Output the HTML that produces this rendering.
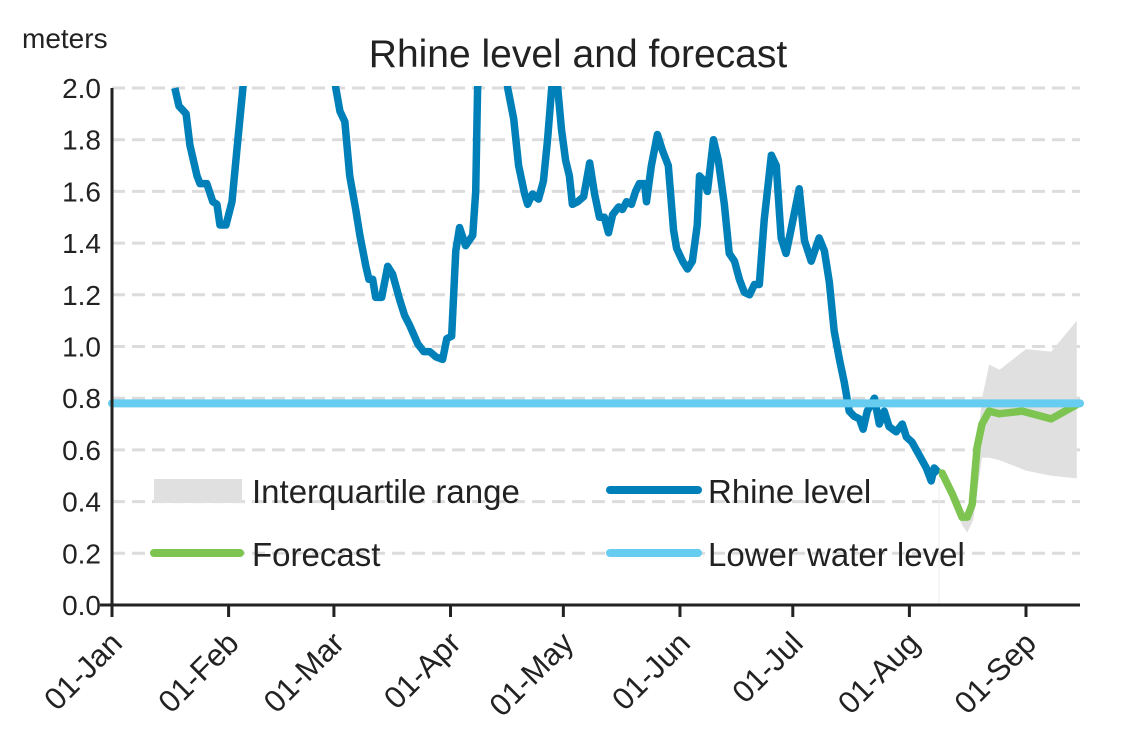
<!DOCTYPE html>
<html><head><meta charset="utf-8"><style>
body{margin:0;background:#fff;}
svg{display:block;font-family:"Liberation Sans",sans-serif;}
</style></head><body>
<svg id="chart" width="1146" height="739" viewBox="0 0 1146 739"></svg>
<script>
const rhineDays=[16.7,17.8,19.7,20.7,22.6,23.4,25.2,26.8,27.9,28.7,30.3,31.9,33.2,34.8,36.7,45,57,59.5,60.6,61.9,63.2,64.8,65.9,67.5,68.3,69.3,70.1,71.7,73.3,74.6,76.5,77.8,79.2,81.3,82.9,84.5,86.1,87.9,89,90.3,91.4,92.4,94,95.9,96.7,97.2,99,104,105.2,106.8,108.1,109.7,110.5,111.8,113.4,114.7,115.8,116.9,117.7,118.5,119.5,120.6,121.6,122.4,123.8,125.4,127,128.3,129.6,130.9,132,133.1,134.7,135.7,136.8,138.1,139.2,140.2,141.6,142.1,143.4,145,146.3,147.9,149.3,150.1,151.7,153,154.3,155.6,156.2,157.5,158.3,159.9,161.2,162.8,164.1,165.5,166.8,168.1,169.5,170.8,172.1,173.4,175.3,176.6,177.9,179.2,180.5,182.7,184.1,185.9,188,189.4,190.7,192,193.4,194.7,196,197.3,198.7,199.7,200.8,202.7,204,205.3,206.6,208.5,210.1,211.2,212.7,214.6,216.5,217.8,218.6,219.9];
const rhineValues=[2.0,1.93,1.90,1.78,1.66,1.63,1.63,1.56,1.55,1.47,1.47,1.56,1.76,2.0,2.3,3.0,2.3,2.0,1.91,1.87,1.66,1.53,1.43,1.31,1.26,1.26,1.19,1.19,1.31,1.28,1.18,1.12,1.08,1.01,0.98,0.98,0.96,0.95,1.03,1.04,1.37,1.46,1.39,1.43,1.60,2.0,2.4,2.3,2.0,1.88,1.70,1.59,1.55,1.59,1.57,1.64,1.80,2.0,2.1,2.0,1.84,1.72,1.66,1.55,1.56,1.58,1.71,1.59,1.50,1.50,1.44,1.51,1.54,1.53,1.56,1.55,1.60,1.63,1.63,1.56,1.70,1.82,1.76,1.70,1.45,1.38,1.33,1.30,1.33,1.47,1.66,1.64,1.60,1.80,1.72,1.55,1.36,1.33,1.26,1.21,1.20,1.24,1.24,1.49,1.74,1.70,1.42,1.36,1.45,1.61,1.41,1.33,1.42,1.37,1.25,1.06,0.95,0.86,0.75,0.73,0.72,0.68,0.75,0.80,0.70,0.75,0.69,0.67,0.70,0.65,0.63,0.58,0.53,0.48,0.53,0.51];
const forecastDays=[219.9,220.7,223.4,226,227.4,228.7,230,231.3,233.2,235.9,242,249.7,257.1];
const forecastValues=[0.51,0.51,0.43,0.34,0.34,0.39,0.61,0.70,0.75,0.74,0.75,0.72,0.78];
const iqrDays=[220,226,227.4,229,231.3,233.2,236,243,249.7,256.5];
const iqrUpper=[0.51,0.36,0.36,0.45,0.80,0.93,0.91,0.99,0.98,1.10];
const iqrLower=[0.51,0.31,0.28,0.33,0.57,0.57,0.56,0.52,0.50,0.49];
const lowerWaterLevel=0.78;
const yTicks=[0,0.2,0.4,0.6,0.8,1.0,1.2,1.4,1.6,1.8,2.0];
const monthDays=[0,31,59,90,120,151,181,212,243];
const monthLabels=["01-Jan","01-Feb","01-Mar","01-Apr","01-May","01-Jun","01-Jul","01-Aug","01-Sep"];
const X0=112,X1=1080,Y0=605,Y1=88;
const xs=d=>X0+d*(1026-X0)/243;
const ys=v=>Y0-(v/2)*(Y0-Y1);
const NS="http://www.w3.org/2000/svg";
const svg=document.getElementById('chart');
function mk(tag,at,parent){const e=document.createElementNS(NS,tag);for(const k in at)e.setAttribute(k,at[k]);(parent||svg).appendChild(e);return e;}
const defs=mk('defs',{});const cp=mk('clipPath',{id:'plotclip'},defs);mk('rect',{x:X0,y:Y1-2,width:X1-X0+10,height:Y0-Y1+2},cp);
yTicks.forEach(v=>{
 if(v>0){const g=mk('line',{x1:X0,x2:X1,y1:ys(v),y2:ys(v),stroke:'#dcdcdc','stroke-width':3,'stroke-dasharray':'13 7'});
 
 }
 const t=mk('text',{x:101,y:ys(v)+10,'text-anchor':'end','font-size':28,fill:'#222'});t.textContent=v.toFixed(1);
 
 
});
const g=mk('g',{'clip-path':'url(#plotclip)'});
let pts=iqrDays.map((d,i)=>xs(d)+','+ys(iqrUpper[i])).concat(iqrDays.slice().reverse().map((d,i)=>xs(d)+','+ys(iqrLower[iqrDays.length-1-i])));
const iq=mk('polygon',{points:pts.join(' '),fill:'#e0e0e0'},g);


const vl=mk('line',{x1:xs(forecastDays[0]),x2:xs(forecastDays[0]),y1:ys(forecastValues[0]),y2:Y0,stroke:'#eee','stroke-width':1},g);


const rl=mk('polyline',{points:rhineDays.map((d,i)=>xs(d)+','+ys(rhineValues[i])).join(' '),fill:'none',stroke:'#0080b8','stroke-width':7.5,'stroke-linejoin':'round'},g);


const fl=mk('polyline',{points:forecastDays.map((d,i)=>xs(d)+','+ys(forecastValues[i])).join(' '),fill:'none',stroke:'#7dc450','stroke-width':7.5,'stroke-linejoin':'round'},g);


const lw=mk('line',{x1:X0,x2:X1,y1:ys(lowerWaterLevel),y2:ys(lowerWaterLevel),stroke:'#66ccf0','stroke-width':8,'stroke-linecap':'round'});


const ax=mk('line',{x1:X0,x2:X0,y1:Y1,y2:Y0+12,stroke:'#222','stroke-width':3});


const bx=mk('line',{x1:X0-12,x2:X1,y1:Y0,y2:Y0,stroke:'#222','stroke-width':3});


monthDays.forEach((d,i)=>{
 const x=xs(d);
 const tk=mk('line',{x1:x,x2:x,y1:Y0,y2:Y0+12,stroke:'#222','stroke-width':3});
 
 
 const t=mk('text',{x:x+12,y:Y0+40,'text-anchor':'end','font-size':31,fill:'#222',transform:`rotate(-45 ${x+12} ${Y0+40})`});
 t.textContent=monthLabels[i];
 
 
});
</script>
<svg style="position:absolute;left:0;top:0" width="1146" height="739">
<text x="22" y="48" font-size="28" fill="#222" font-family="Liberation Sans, sans-serif">meters</text>
<text x="578" y="67" text-anchor="middle" font-size="39" fill="#222" font-family="Liberation Sans, sans-serif">Rhine level and forecast</text>
<g font-family="Liberation Sans, sans-serif" font-size="33" fill="#222">
<rect x="154" y="479" width="88" height="24" fill="#e0e0e0"/>
<text x="252" y="503">Interquartile range</text>
<line x1="610" x2="698" y1="490" y2="490" stroke="#0080b8" stroke-width="8" stroke-linecap="round"/>
<text x="708" y="503">Rhine level</text>
<line x1="154" x2="240" y1="553" y2="553" stroke="#7dc450" stroke-width="8" stroke-linecap="round"/>
<text x="252" y="566">Forecast</text>
<line x1="610" x2="698" y1="553" y2="553" stroke="#66ccf0" stroke-width="8" stroke-linecap="round"/>
<text x="708" y="566">Lower water level</text>
</g>
</svg>
</body></html>
